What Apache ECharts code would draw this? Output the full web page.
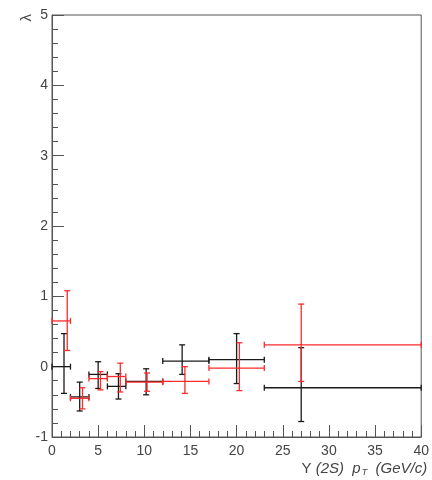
<!DOCTYPE html>
<html>
<head>
<meta charset="utf-8">
<script src="https://cdn.jsdelivr.net/npm/echarts@6/dist/echarts.min.js"></script>
<style>html,body{margin:0;padding:0;background:#fff}#c{width:432px;height:480px}</style>
</head>
<body>
<div id="c"></div>
<script>
// bin edges (pT, GeV/c)
const binLow  = [0, 2, 4, 6, 8, 12, 17, 23];
const binHigh = [2, 4, 6, 8, 12, 17, 23, 40];
// black series
const xBlack      = [1.3, 3.0, 5.0, 7.2, 10.2, 14.1, 20.0, 27.0];
const yBlack      = [0.00, -0.43, -0.11, -0.28, -0.21, 0.08, 0.10, -0.30];
const eyLowBlack  = [0.38, 0.20, 0.20, 0.18, 0.19, 0.19, 0.34, 0.48];
const eyHighBlack = [0.47, 0.21, 0.18, 0.18, 0.18, 0.23, 0.37, 0.57];
// red series
const xRed      = [1.65, 3.3, 5.25, 7.4, 10.3, 14.4, 20.3, 27.0];
const yRed      = [0.65, -0.45, -0.17, -0.14, -0.22, -0.21, -0.02, 0.31];
const eyLowRed  = [0.42, 0.15, 0.16, 0.22, 0.13, 0.17, 0.32, 0.52];
const eyHighRed = [0.43, 0.15, 0.10, 0.19, 0.13, 0.21, 0.36, 0.58];
// axis ticks
const xTicks = [0, 5, 10, 15, 20, 25, 30, 35, 40];
const yTicks = [-1, 0, 1, 2, 3, 4, 5];

function build(xs, ys, lo, hi) {
  return xs.map((x, i) => [x, ys[i], binLow[i], binHigh[i], ys[i] - lo[i], ys[i] + hi[i]]);
}

function makeRender(color) {
  return function (params, api) {
    const x = api.value(0), y = api.value(1);
    const c = api.coord([x, y]);
    const l = api.coord([api.value(2), y]);
    const r = api.coord([api.value(3), y]);
    const b = api.coord([x, api.value(4)]);
    const t = api.coord([x, api.value(5)]);
    const cap = 3;
    const st = { stroke: color, lineWidth: 1.3 };
    const seg = (x1, y1, x2, y2) => ({ type: 'line', shape: { x1, y1, x2, y2 }, style: st });
    return {
      type: 'group',
      children: [
        seg(l[0], c[1], r[0], c[1]),
        seg(l[0], c[1] - cap, l[0], c[1] + cap),
        seg(r[0], c[1] - cap, r[0], c[1] + cap),
        seg(c[0], t[1], c[0], b[1]),
        seg(c[0] - cap, t[1], c[0] + cap, t[1]),
        seg(c[0] - cap, b[1], c[0] + cap, b[1])
      ]
    };
  };
}

const chart = echarts.init(document.getElementById('c'), null, { renderer: 'canvas' });
const axisColor = '#555';
const font = 'Liberation Sans';
chart.setOption({
  animation: false,
  backgroundColor: '#fff',
  grid: { left: 52, top: 15, right: 1, bottom: 43, show: true, borderColor: axisColor, borderWidth: 1, backgroundColor: 'transparent' },
  xAxis: {
    type: 'value', min: xTicks[0], max: xTicks[xTicks.length - 1], interval: 5,
    axisLine: { show: true, onZero: false, lineStyle: { color: axisColor, width: 1 } },
    axisTick: { show: true, inside: true, length: 12, lineStyle: { color: axisColor } },
    minorTick: { show: true, splitNumber: 5, length: 6, lineStyle: { color: axisColor } },
    splitLine: { show: false },
    axisLabel: { color: '#444', fontSize: 14, fontFamily: font, margin: 7, showMinLabel: true, showMaxLabel: true },
    name: '{n|Υ }{i|(2S)}  {i|p}{s|T}  {i|(GeV/c)}',
    nameLocation: 'end', nameGap: 6,
    nameTextStyle: {
      align: 'right', verticalAlign: 'top', padding: [23, 0, 0, 0],
      color: '#444', fontFamily: font, fontSize: 15,
      rich: {
        n: { fontSize: 15, fontFamily: font, color: '#444' },
        i: { fontSize: 15, fontStyle: 'italic', fontFamily: font, color: '#444' },
        s: { fontSize: 9, fontStyle: 'italic', fontFamily: font, color: '#444', padding: [8, 0, 0, 1] }
      }
    }
  },
  yAxis: {
    type: 'value', min: yTicks[0], max: yTicks[yTicks.length - 1], interval: 1,
    axisLine: { show: true, onZero: false, lineStyle: { color: axisColor, width: 1 } },
    axisTick: { show: true, inside: true, length: 12, lineStyle: { color: axisColor } },
    minorTick: { show: true, splitNumber: 5, length: 6, lineStyle: { color: axisColor } },
    splitLine: { show: false },
    axisLabel: { color: '#444', fontSize: 14, fontFamily: font, margin: 4, showMinLabel: true, showMaxLabel: true }
  },
  graphic: [{
    type: 'text', left: 19, top: 14, rotation: Math.PI / 2,
    style: { text: 'λ', fontSize: 15, fontFamily: font, fill: '#444' }
  }],
  series: [
    { type: 'custom', name: 'black', renderItem: makeRender('#1a1a1a'), data: build(xBlack, yBlack, eyLowBlack, eyHighBlack), encode: { x: [0, 2, 3], y: [1, 4, 5] }, z: 2 },
    { type: 'custom', name: 'red', renderItem: makeRender('#ff2a2a'), data: build(xRed, yRed, eyLowRed, eyHighRed), encode: { x: [0, 2, 3], y: [1, 4, 5] }, z: 3 }
  ]
});
</script>
</body>
</html>
